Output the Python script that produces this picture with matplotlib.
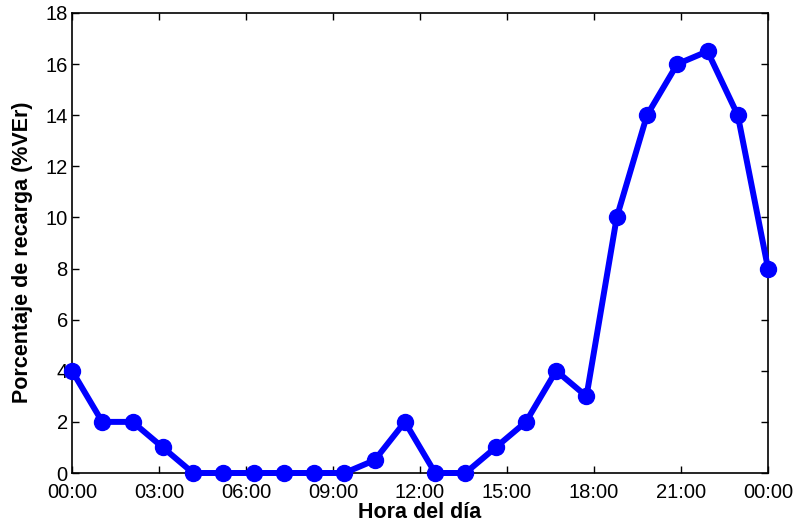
import numpy as np
import matplotlib
matplotlib.use("Agg")
import matplotlib.pyplot as plt

# recharge percentage per hour slot (24 points spanning 00:00 to 00:00)
hours = np.linspace(0, 24, 24)
recarga = [4, 2, 2, 1, 0, 0, 0, 0, 0, 0, 0.5, 2, 0, 0, 1, 2, 4, 3, 10, 14, 16, 16.5, 14, 8]
tick_pos = [0, 3, 6, 9, 12, 15, 18, 21, 24]
tick_labels = ["00:00", "03:00", "06:00", "09:00", "12:00", "15:00", "18:00", "21:00", "00:00"]

plt.rcParams["font.family"] = ["Liberation Sans", "DejaVu Sans"]

fig = plt.figure(figsize=(7.94, 5.32), dpi=100)
ax = fig.add_axes([0.0907, 0.1109, 0.8766, 0.8647])

ax.plot(hours, recarga, color="#0000ff", lw=4.3, marker="o", ms=11.5, clip_on=False, zorder=3)

ax.set_xlim(0, 24)
ax.set_ylim(0, 18)
ax.set_xticks(tick_pos)
ax.set_xticklabels(tick_labels)
ax.set_yticks(np.arange(0, 19, 2))
ax.tick_params(direction="in", top=True, right=True, labelsize=14.5, length=5, width=1, pad=3)
ax.tick_params(axis="x", pad=7)
for s in ax.spines.values():
    s.set_linewidth(1.2)

ax.set_xlabel("Hora del día", fontsize=15.5, fontweight="bold", labelpad=0)
ax.set_ylabel("Porcentaje de recarga (%VEr)", fontsize=15.5, fontweight="bold")
ax.yaxis.set_label_coords(-0.056, 0.48)

fig.savefig("out.png", dpi=100)
